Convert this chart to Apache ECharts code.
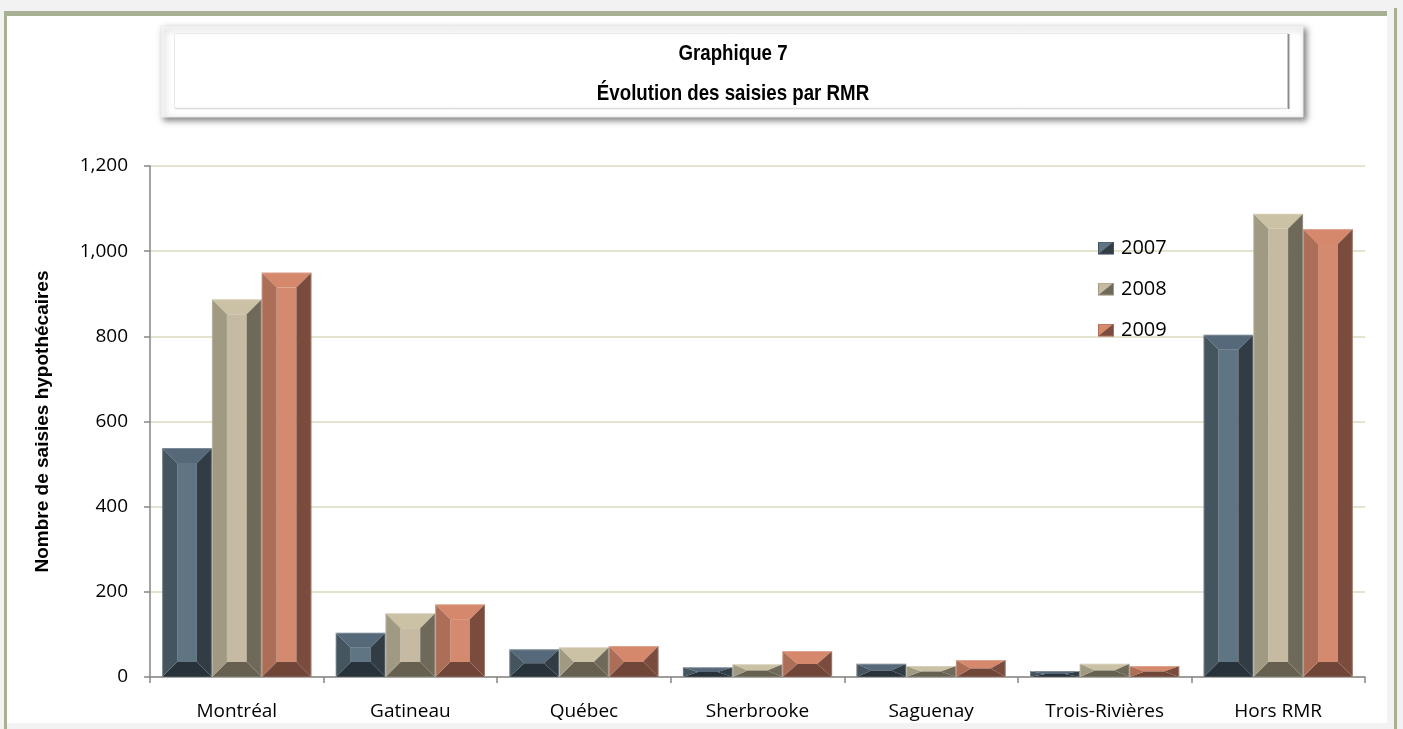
<!DOCTYPE html>
<html>
<head>
<meta charset="utf-8">
<script src="https://cdn.jsdelivr.net/npm/echarts@6/dist/echarts.min.js"></script>
<style>
  html, body { margin: 0; padding: 0; background: #f2f2f2; }
  #chart { width: 1403px; height: 729px; }
</style>
</head>
<body>
<div id="chart"></div>
<script>
// categories (RMR) and yearly counts
const categories = ['Montréal', 'Gatineau', 'Québec', 'Sherbrooke', 'Saguenay', 'Trois-Rivières', 'Hors RMR'];
const years = ['2007', '2008', '2009'];
const s2007 = [538, 104, 65, 23, 31, 14, 804];
const s2008 = [887, 150, 70, 30, 26, 31, 1088];
const s2009 = [950, 171, 73, 61, 40, 26, 1052];
const yTicks = [0, 200, 400, 600, 800, 1000, 1200];
const titleLines = ['Graphique 7', 'Évolution des saisies par RMR'];

// bevel colours: face, top, left, right, bottom
const palettes = [
  { face: '#5f7583', top: '#56697a', left: '#45555f', right: '#313c45', bottom: '#27323a' },
  { face: '#c6bba2', top: '#cbc1a5', left: '#a19a83', right: '#6f6959', bottom: '#666050' },
  { face: '#d38a6f', top: '#d5886c', left: '#ad6e58', right: '#7b4c3e', bottom: '#6f4638' }
];

const chart = echarts.init(document.getElementById('chart'), null, { renderer: 'canvas' });

function bevelBar(sIdx) {
  const c = palettes[sIdx];
  return function (params, api) {
    const cat = api.value(0);
    const val = api.value(1);
    const base = api.coord([cat, 0]);
    const tip = api.coord([cat, val]);
    const band = api.size([1, 0])[0];
    const w = band * 0.86 / 3;
    const x0 = base[0] - 1.5 * w + sIdx * w;
    const x1 = x0 + w;
    const yb = base[1];
    const yt = tip[1];
    const h = yb - yt;
    const bh = Math.min(15, w / 2);
    const bv = Math.min(15, h / 2);
    const poly = (pts, fill) => ({ type: 'polygon', shape: { points: pts }, style: { fill: fill } });
    return {
      type: 'group',
      children: [
        { type: 'rect', shape: { x: x0 + bh, y: yt + bv, width: w - 2 * bh, height: Math.max(0, h - 2 * bv) }, style: { fill: c.face } },
        poly([[x0, yt], [x1, yt], [x1 - bh, yt + bv], [x0 + bh, yt + bv]], c.top),
        poly([[x0, yb], [x1, yb], [x1 - bh, yb - bv], [x0 + bh, yb - bv]], c.bottom),
        poly([[x0, yt], [x0 + bh, yt + bv], [x0 + bh, yb - bv], [x0, yb]], c.left),
        poly([[x1, yt], [x1 - bh, yt + bv], [x1 - bh, yb - bv], [x1, yb]], c.right),
        { type: 'rect', shape: { x: x0 + 0.5, y: yt + 0.5, width: w - 1, height: h - 0.5 },
          style: { fill: null, stroke: 'rgba(255,255,255,0.25)', lineWidth: 1 } }
      ]
    };
  };
}

function legendIcon(c) {
  const svg = "<svg xmlns='http://www.w3.org/2000/svg' width='16' height='13'>" +
    "<rect width='16' height='13' fill='" + c.face + "'/>" +
    "<polygon points='16,0 16,13 0,13' fill='" + c.right + "'/>" +
    "<rect x='0.5' y='0.5' width='15' height='12' fill='none' stroke='" + c.left + "' stroke-width='1'/></svg>";
  return 'image://data:image/svg+xml;charset=utf-8,' + encodeURIComponent(svg);
}

const seriesData = [s2007, s2008, s2009];
const olive = '#a8b094';
const narrowBold = { fontFamily: '"Liberation Sans", Arial, sans-serif', fontWeight: 'bold', fontSize: 22, fill: '#000', align: 'center', verticalAlign: 'middle' };

const option = {
  animation: false,
  backgroundColor: '#f2f2f2',
  graphic: [
    { type: 'rect', z: -10, shape: { x: 4, y: 11, width: 1383, height: 712 }, style: { fill: '#ffffff' } },
    { type: 'rect', z: -9, shape: { x: 4, y: 11, width: 1383, height: 5 }, style: { fill: olive } },
    { type: 'rect', z: -9, shape: { x: 4, y: 11, width: 3, height: 718 }, style: { fill: olive } },
    { type: 'rect', z: -9, shape: { x: 1394, y: 8, width: 3, height: 721 }, style: { fill: olive } },
    { type: 'rect', z: -8, shape: { x: 161, y: 26, width: 1142, height: 91 },
      style: { fill: '#ffffff', stroke: '#ececec', lineWidth: 1, shadowColor: 'rgba(0,0,0,0.5)', shadowBlur: 6, shadowOffsetX: 3, shadowOffsetY: 3 } },
    { type: 'rect', z: -7, shape: { x: 174.5, y: 33.5, width: 1114, height: 75 },
      style: { fill: '#ffffff', stroke: '#e8e8e8', lineWidth: 1 } },
    { type: 'line', z: -7, shape: { x1: 1288.5, y1: 34, x2: 1288.5, y2: 109 }, style: { stroke: '#8c8c8c', lineWidth: 2 } },
    { type: 'line', z: -7, shape: { x1: 175, y1: 108.5, x2: 1288, y2: 108.5 }, style: { stroke: '#dcdcdc', lineWidth: 1.5 } },
    // title, condensed like the original narrow face
    { type: 'text', z: 10, x: 733, y: 54, scaleX: 0.85, style: Object.assign({ text: titleLines[0] }, narrowBold) },
    { type: 'text', z: 10, x: 733, y: 94, scaleX: 0.85, style: Object.assign({ text: titleLines[1] }, narrowBold) }
  ],
  legend: {
    orient: 'vertical',
    left: 1098,
    top: 238,
    padding: 0,
    itemWidth: 16,
    itemHeight: 13,
    itemGap: 21,
    textStyle: { fontFamily: '"Open Sans", sans-serif', fontSize: 20, lineHeight: 20, color: '#000', padding: [0, 0, 0, 2] },
    data: years.map((y, i) => ({ name: y, icon: legendIcon(palettes[i]) }))
  },
  grid: { left: 150, right: 38, top: 166, bottom: 52, containLabel: false },
  xAxis: {
    type: 'category',
    data: categories,
    axisLine: { lineStyle: { color: '#868686', width: 1.5 } },
    axisTick: { show: true, length: 6, lineStyle: { color: '#868686', width: 1.5 } },
    axisLabel: { color: '#000', fontFamily: '"Open Sans", sans-serif', fontSize: 19, margin: 25 },
    splitLine: { show: false }
  },
  yAxis: {
    type: 'value',
    min: yTicks[0],
    max: yTicks[yTicks.length - 1],
    interval: 200,
    name: 'Nombre de saisies hypothécaires',
    nameLocation: 'middle',
    nameGap: 98,
    nameTextStyle: {
      fontFamily: '"Liberation Sans", Arial, sans-serif',
      fontWeight: 'bold',
      fontSize: 19,
      color: '#000'
    },
    axisLine: { show: true, lineStyle: { color: '#868686', width: 1.5 } },
    axisTick: { show: true, length: 6, lineStyle: { color: '#868686', width: 1.5 } },
    axisLabel: {
      color: '#000',
      fontFamily: '"Open Sans", sans-serif',
      fontSize: 19,
      margin: 22,
      formatter: v => v.toLocaleString('en-US')
    },
    splitLine: { show: true, lineStyle: { color: '#dcd8c1', width: 1.5 } }
  },
  series: years.map((y, i) => ({
    name: y,
    type: 'custom',
    renderItem: bevelBar(i),
    encode: { x: 0, y: 1 },
    itemStyle: { color: palettes[i].face },
    data: seriesData[i].map((v, k) => [k, v])
  }))
};

chart.setOption(option);
</script>
</body>
</html>
